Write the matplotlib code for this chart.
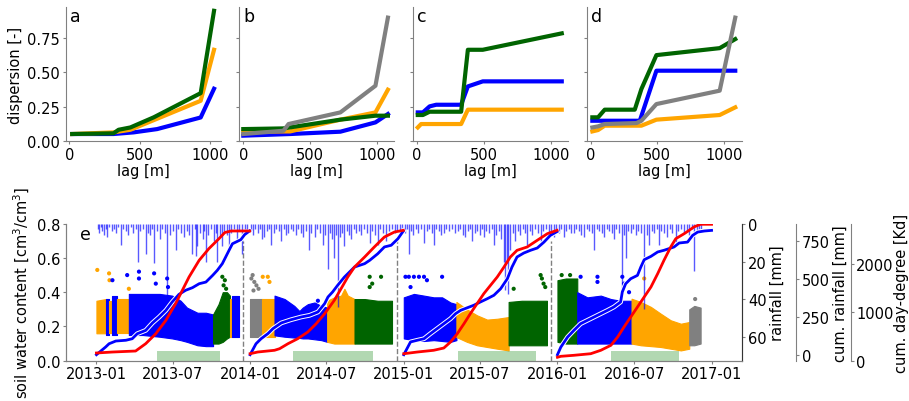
import numpy as np
import matplotlib
matplotlib.use("Agg")
import matplotlib.pyplot as plt
import matplotlib.dates as mdates
import matplotlib.patheffects as pe

# ---------------- top row: dispersion vs lag ----------------
# clusters: A = blue, B = orange, C = green, D = grey
a_A = [(20, 0.049), (314, 0.049), (457, 0.061), (624, 0.085), (934, 0.17), (1029, 0.38)]
a_B = [(20, 0.049), (314, 0.061), (434, 0.080), (934, 0.292), (1029, 0.665)]
a_C = [(20, 0.049), (314, 0.054), (350, 0.080), (434, 0.097), (600, 0.171), (934, 0.348), (1029, 0.95)]

b_A = [(0, 0.037), (350, 0.049), (725, 0.066), (987, 0.134), (1080, 0.195)]
b_B = [(0, 0.066), (350, 0.068), (725, 0.154), (987, 0.207), (1080, 0.373)]
b_C = [(0, 0.085), (300, 0.09), (725, 0.154), (987, 0.183), (1080, 0.183)]
b_D = [(0, 0.049), (300, 0.073), (338, 0.122), (725, 0.207), (987, 0.402), (1080, 0.90)]

c_A = [(7, 0.207), (45, 0.207), (95, 0.251), (144, 0.263), (330, 0.263), (380, 0.397), (491, 0.434), (1079, 0.434)]
c_B = [(7, 0.097), (32, 0.122), (330, 0.122), (380, 0.227), (1079, 0.227)]
c_C = [(7, 0.188), (45, 0.188), (95, 0.212), (330, 0.212), (380, 0.665), (491, 0.665), (1079, 0.785)]

d_A = [(12, 0.146), (369, 0.146), (494, 0.512), (1087, 0.512)]
d_B = [(12, 0.068), (55, 0.078), (105, 0.110), (381, 0.110), (494, 0.154), (970, 0.188), (1087, 0.244)]
d_C = [(12, 0.171), (55, 0.171), (105, 0.227), (331, 0.227), (381, 0.378), (494, 0.626), (970, 0.677), (1087, 0.743)]
d_D = [(12, 0.097), (55, 0.105), (105, 0.122), (343, 0.129), (381, 0.146), (494, 0.268), (970, 0.366), (1087, 0.90)]

panels = ["a", "b", "c", "d"]
panel_series = [[("A", a_A), ("B", a_B), ("C", a_C)],
                [("A", b_A), ("B", b_B), ("C", b_C), ("D", b_D)],
                [("A", c_A), ("B", c_B), ("C", c_C)],
                [("A", d_A), ("B", d_B), ("C", d_C), ("D", d_D)]]

# ---------------- bottom panel: soil water content time series ----------------
years = [2013, 2014, 2015, 2016]

# cumulative rainfall [mm] (day of year, value)
cumrain13 = [(0, 0), (22, 51), (30, 72), (46, 90), (70, 95), (85, 105), (97, 138), (117, 160), (133, 209),
             (149, 248), (165, 292), (180, 347), (196, 397), (212, 424), (228, 441), (244, 467), (260, 478),
             (276, 522), (287, 555), (299, 599), (315, 687), (323, 730), (343, 757), (352, 790), (364, 815)]
cumrain14 = [(0, 0), (14, 72), (26, 105), (42, 138), (54, 171), (74, 209), (97, 230), (121, 248), (141, 259),
             (161, 281), (177, 336), (185, 380), (196, 413), (208, 457), (224, 511), (236, 544), (248, 577),
             (272, 599), (284, 621), (303, 664), (319, 709), (335, 720), (351, 763), (364, 814)]
cumrain15 = [(0, 0), (16, 84), (32, 95), (48, 105), (63, 138), (79, 171), (95, 204), (111, 237), (123, 270),
             (135, 292), (151, 309), (166, 325), (182, 347), (198, 368), (214, 391), (230, 434), (246, 500),
             (257, 577), (269, 643), (285, 669), (301, 687), (317, 702), (333, 741), (348, 785), (364, 810)]
cumrain16 = [(0, 0), (8, 50), (24, 116), (39, 160), (55, 204), (71, 226), (87, 248), (103, 270), (119, 292),
             (134, 314), (150, 347), (154, 413), (162, 467), (174, 500), (190, 522), (198, 577), (206, 625),
             (222, 647), (238, 676), (253, 687), (277, 709), (289, 735), (309, 741), (321, 785), (333, 807),
             (349, 814), (366, 818)]

# cumulative day-degree [Kd]
degday13 = [(0, 160), (38, 180), (93, 201), (117, 353), (141, 560), (165, 838), (188, 1183), (200, 1390),
            (220, 1737), (244, 2083), (267, 2324), (291, 2531), (305, 2660), (320, 2691), (364, 2691)]
degday14 = [(0, 145), (18, 180), (58, 216), (70, 249), (90, 353), (113, 456), (137, 595), (157, 768),
            (177, 975), (200, 1253), (216, 1494), (232, 1737), (248, 1944), (272, 2151), (295, 2359),
            (319, 2566), (343, 2670), (364, 2705)]
degday15 = [(0, 145), (32, 180), (71, 216), (95, 263), (111, 388), (127, 560), (143, 768), (158, 975),
            (174, 1183), (190, 1390), (206, 1564), (222, 1737), (238, 1944), (253, 2151), (269, 2290),
            (293, 2359), (317, 2498), (341, 2635), (364, 2705)]
degday16 = [(0, 71), (8, 91), (39, 112), (79, 145), (103, 216), (127, 320), (143, 492), (158, 699),
            (174, 907), (190, 1114), (206, 1322), (222, 1529), (238, 1805), (253, 2083), (269, 2359),
            (281, 2531), (301, 2635), (313, 2705), (324, 2774), (340, 2830), (366, 2830)]

# daily rainfall [mm]
rain13 = [(3, 3), (6, 5), (10, 2), (14, 4), (18, 6), (22, 3), (26, 7), (31, 2), (36, 4), (41, 3), (47, 5),
          (52, 2), (58, 11), (63, 3), (70, 4), (76, 6), (82, 2), (88, 5), (94, 3), (99, 20), (104, 4),
          (110, 3), (117, 16), (122, 5), (128, 6), (133, 3), (137, 21), (143, 4), (150, 8), (156, 3),
          (162, 5), (168, 41), (174, 6), (181, 4), (188, 14), (194, 3), (200, 5), (207, 7), (214, 4),
          (221, 6), (228, 16), (234, 3), (237, 17), (240, 12), (246, 5), (252, 8), (256, 4), (260, 20),
          (266, 6), (272, 3), (279, 9), (284, 5), (287, 20), (293, 7), (299, 12), (304, 4), (310, 6),
          (315, 14), (320, 5), (326, 3), (333, 8), (339, 4), (346, 16), (352, 3), (358, 5)]
rain14 = [(2, 4), (7, 6), (12, 3), (18, 5), (24, 3), (29, 8), (34, 7), (40, 4), (45, 3), (50, 11), (56, 5),
          (62, 3), (68, 4), (74, 9), (80, 3), (85, 6), (90, 5), (96, 3), (102, 4), (108, 6), (114, 3),
          (120, 5), (126, 7), (132, 4), (139, 14), (145, 5), (153, 7), (160, 3), (166, 5), (173, 11),
          (179, 6), (184, 24), (190, 5), (195, 8), (200, 18), (204, 6), (208, 44), (213, 7), (218, 5),
          (224, 12), (230, 4), (235, 6), (240, 8), (246, 3), (252, 5), (258, 4), (264, 6), (270, 3),
          (277, 5), (284, 10), (290, 4), (296, 6), (303, 11), (309, 3), (316, 5), (323, 9), (329, 4),
          (336, 3), (343, 5), (349, 4), (355, 7), (361, 3)]
rain15 = [(3, 5), (8, 3), (12, 16), (17, 4), (22, 6), (28, 3), (34, 5), (40, 3), (48, 10), (54, 4), (60, 3),
          (66, 5), (71, 11), (77, 3), (83, 4), (89, 6), (95, 5), (101, 3), (108, 4), (115, 3), (122, 5),
          (128, 4), (134, 3), (140, 6), (146, 7), (152, 4), (157, 3), (162, 9), (168, 5), (174, 4),
          (180, 6), (186, 3), (190, 7), (196, 4), (203, 5), (209, 3), (214, 11), (220, 6), (226, 4),
          (232, 8), (237, 20), (241, 35), (244, 21), (248, 37), (253, 14), (259, 5), (265, 9), (271, 4),
          (277, 6), (283, 3), (288, 5), (293, 11), (299, 4), (305, 6), (311, 3), (318, 5), (325, 12),
          (331, 4), (338, 3), (344, 6), (350, 4), (356, 7), (361, 3)]
rain16 = [(4, 5), (9, 3), (16, 7), (21, 4), (27, 3), (33, 5), (39, 5), (45, 3), (51, 4), (57, 6), (63, 7),
          (69, 3), (75, 4), (81, 5), (87, 14), (93, 3), (99, 4), (105, 5), (111, 7), (117, 3), (123, 4),
          (129, 5), (134, 8), (140, 3), (146, 5), (154, 38), (158, 6), (162, 18), (168, 4), (174, 5),
          (180, 3), (186, 6), (192, 4), (198, 5), (205, 45), (212, 6), (218, 11), (224, 4), (230, 5),
          (236, 3), (241, 11), (247, 4), (253, 5), (261, 7), (267, 3), (273, 5), (281, 10), (287, 4),
          (293, 3), (300, 5), (307, 4), (313, 6), (319, 3), (325, 25), (331, 4), (336, 3), (340, 4)]

# soil water content clouds per cluster: (day of year, lower, upper) envelope
swc13 = [("B", [(0, 0.16, 0.35), (22, 0.16, 0.36)]),
         ("A", [(22, 0.15, 0.36), (29, 0.15, 0.36)]),
         ("B", [(29, 0.16, 0.35), (37, 0.16, 0.35)]),
         ("A", [(37, 0.15, 0.38), (50, 0.15, 0.38)]),
         ("B", [(50, 0.16, 0.36), (77, 0.16, 0.36)]),
         ("A", [(77, 0.15, 0.39), (110, 0.15, 0.39), (150, 0.14, 0.39), (180, 0.13, 0.38), (200, 0.12, 0.35),
                (215, 0.11, 0.31), (240, 0.09, 0.28), (260, 0.085, 0.28), (277, 0.085, 0.27)]),
         ("C", [(277, 0.10, 0.27), (290, 0.10, 0.33), (300, 0.11, 0.40), (310, 0.13, 0.40), (317, 0.14, 0.38)]),
         ("B", [(317, 0.14, 0.36), (321, 0.14, 0.36)]),
         ("A", [(321, 0.14, 0.38), (338, 0.14, 0.38)])]
swc14 = [("D", [(0, 0.14, 0.36), (28, 0.14, 0.36)]),
         ("B", [(28, 0.14, 0.36), (58, 0.14, 0.36)]),
         ("A", [(58, 0.148, 0.38), (82, 0.14, 0.36), (105, 0.135, 0.32), (117, 0.133, 0.29), (125, 0.13, 0.31),
                (137, 0.13, 0.33), (153, 0.125, 0.34), (169, 0.12, 0.32), (183, 0.11, 0.31)]),
         ("B", [(183, 0.11, 0.35), (200, 0.10, 0.37), (216, 0.10, 0.38), (224, 0.10, 0.42), (232, 0.10, 0.38),
                (248, 0.10, 0.36)]),
         ("C", [(248, 0.10, 0.36), (272, 0.10, 0.36), (303, 0.10, 0.35), (337, 0.10, 0.35)])]
swc15 = [("A", [(0, 0.13, 0.37), (24, 0.12, 0.39), (48, 0.115, 0.38), (71, 0.12, 0.37), (91, 0.115, 0.37),
                (111, 0.11, 0.34), (125, 0.12, 0.33)]),
         ("B", [(125, 0.138, 0.343), (150, 0.11, 0.30), (174, 0.09, 0.265), (198, 0.08, 0.24), (222, 0.07, 0.245),
                (249, 0.06, 0.255)]),
         ("C", [(249, 0.09, 0.343), (280, 0.09, 0.35), (310, 0.09, 0.35), (340, 0.09, 0.35)])]
swc16 = [("C", [(0, 0.11, 0.47), (20, 0.10, 0.48), (47, 0.10, 0.48)]),
         ("A", [(47, 0.10, 0.40), (71, 0.10, 0.37), (103, 0.10, 0.38), (127, 0.10, 0.36), (150, 0.10, 0.35),
                (176, 0.10, 0.35)]),
         ("B", [(176, 0.10, 0.362), (198, 0.09, 0.343), (222, 0.085, 0.314), (245, 0.08, 0.275),
                (269, 0.07, 0.236), (293, 0.06, 0.216), (313, 0.07, 0.226)]),
         ("D", [(313, 0.09, 0.30), (325, 0.09, 0.32), (340, 0.10, 0.31)])]

# isolated high readings (cluster, day of year, swc)
out13 = [("B", 2, 0.53), ("B", 30, 0.51), ("B", 31, 0.47), ("B", 77, 0.42), ("A", 38, 0.47), ("A", 73, 0.50),
         ("A", 101, 0.52), ("A", 101, 0.48), ("A", 137, 0.51), ("A", 141, 0.45), ("A", 168, 0.48),
         ("A", 170, 0.43), ("C", 299, 0.49), ("C", 305, 0.47), ("C", 302, 0.44), ("C", 308, 0.42)]
out14 = [("D", 3, 0.48), ("D", 6, 0.50), ("D", 10, 0.46), ("D", 15, 0.44), ("D", 20, 0.42), ("D", 8, 0.41),
         ("B", 30, 0.49), ("B", 42, 0.49), ("B", 46, 0.46), ("A", 161, 0.35), ("B", 206, 0.43),
         ("C", 284, 0.49), ("C", 311, 0.49), ("C", 284, 0.43), ("C", 290, 0.45)]
out15 = [("A", 4, 0.49), ("A", 12, 0.49), ("A", 16, 0.43), ("A", 24, 0.49), ("A", 36, 0.49), ("A", 48, 0.49),
         ("A", 55, 0.47), ("A", 91, 0.49), ("C", 261, 0.42), ("C", 325, 0.50), ("C", 328, 0.48),
         ("C", 332, 0.45), ("C", 336, 0.43)]
out16 = [("C", 10, 0.50), ("C", 30, 0.50), ("A", 55, 0.49), ("A", 95, 0.49), ("A", 95, 0.46), ("A", 154, 0.49),
         ("A", 158, 0.45), ("A", 170, 0.40), ("B", 206, 0.48), ("D", 327, 0.36)]

season_start = ["2013-05-26", "2014-04-12", "2015-05-09", "2016-05-06"]
season_end = ["2013-10-21", "2014-10-19", "2015-11-10", "2016-10-15"]
season_height = 0.055
year_breaks = ["2013-12-16", "2014-12-17", "2015-12-16"]

# ---------------- styling ----------------
colors = {"A": "blue", "B": "orange", "C": "darkgreen", "D": "gray"}
plt.rcParams["font.size"] = 10.5
plt.rcParams["axes.edgecolor"] = "gray"
plt.rcParams["xtick.color"] = "gray"
plt.rcParams["ytick.color"] = "gray"
plt.rcParams["xtick.labelcolor"] = "black"
plt.rcParams["ytick.labelcolor"] = "black"
plt.rcParams["xtick.major.size"] = 2
plt.rcParams["ytick.major.size"] = 2
plt.rcParams["xtick.major.pad"] = 2
plt.rcParams["ytick.major.pad"] = 2

W, H = 909, 402
fig = plt.figure(figsize=(W / 100, H / 100), dpi=100)


def box(x0, y0, x1, y1):
    return [x0 / W, 1 - y1 / H, (x1 - x0) / W, (y1 - y0) / H]


def dates(year, doys):
    return np.datetime64(f"{year}-01-01") + np.array(doys, dtype="timedelta64[D]")


# top row
top_boxes = [(65.7, 7.7, 220.5, 142.4), (239.0, 7.7, 393.8, 142.4),
             (412.8, 7.7, 567.8, 142.4), (586.5, 7.7, 741.5, 142.4)]
top_xlims = [(-26, 1075), (-32, 1124), (-30, 1124), (-32, 1134)]
first = None
for i, name in enumerate(panels):
    ax = fig.add_axes(box(*top_boxes[i]), sharey=first)
    if first is None:
        first = ax
    for cl, pts in panel_series[i]:
        x, y = zip(*pts)
        ax.plot(x, y, color=colors[cl], lw=3)
    ax.set_xlim(*top_xlims[i])
    ax.set_ylim(-0.005, 0.98)
    ax.set_xticks([0, 500, 1000])
    ax.set_yticks([0, 0.25, 0.5, 0.75])
    ax.spines["top"].set_visible(False)
    ax.spines["right"].set_visible(False)
    ax.set_xlabel("lag [m]", labelpad=1)
    ax.text(0.03, 0.93, name, transform=ax.transAxes, fontsize=12.5, va="center")
    if i == 0:
        ax.set_ylabel("dispersion [-]", labelpad=3)
    else:
        ax.tick_params(labelleft=False)

# bottom panel
ax = fig.add_axes(box(65.7, 224.7, 742.3, 361.7))
ax_r = ax.twinx()
ax_cr = ax.twinx()
ax_dd = ax.twinx()

swc_all = [swc13, swc14, swc15, swc16]
out_all = [out13, out14, out15, out16]
rain_all = [rain13, rain14, rain15, rain16]
cumrain_all = [cumrain13, cumrain14, cumrain15, cumrain16]
degday_all = [degday13, degday14, degday15, degday16]

for yr, segs, outs in zip(years, swc_all, out_all):
    for cl, pts in segs:
        d, lo, hi = zip(*pts)
        ax.fill_between(dates(yr, d), lo, hi, color=colors[cl], lw=0.8, edgecolor=colors[cl])
    for cl, d, v in outs:
        ax.scatter(dates(yr, [d]), [v], s=9, color=colors[cl], edgecolors="none")

s0 = np.array(season_start, dtype="datetime64[D]")
s1 = np.array(season_end, dtype="datetime64[D]")
ax.bar(s0, season_height, width=(s1 - s0).astype(int), align="edge", color="green", alpha=0.3, lw=0)
for b in np.array(year_breaks, dtype="datetime64[D]"):
    ax.vlines(b, 0, 0.7, color="gray", ls="--", lw=1)

ax.set_ylim(0, 0.8)
ax.set_yticks([0, 0.2, 0.4, 0.6, 0.8])
ax.set_xlim(np.datetime64("2013-01-01") - 73, np.datetime64("2017-01-01") + 73)
ax.xaxis.set_major_locator(mdates.MonthLocator(bymonth=[1, 7]))
ax.xaxis.set_major_formatter(mdates.DateFormatter("%Y-%m"))
ax.set_ylabel("soil water content [cm$^3$/cm$^3$]", labelpad=3)
ax.spines["top"].set_visible(False)
ax.text(0.021, 0.925, "e", transform=ax.transAxes, fontsize=12.5, va="center")

for yr, rr in zip(years, rain_all):
    d, mm = zip(*rr)
    ax_r.vlines(dates(yr, d), 0, mm, color="blue", lw=1.0, alpha=0.65)
ax_r.set_ylim(72.4, 0)
ax_r.set_yticks([0, 20, 40, 60])
ax_r.set_ylabel("rainfall [mm]", labelpad=2)
ax_r.spines["right"].set_color("#333333")

for yr, cr in zip(years, cumrain_all):
    d, v = zip(*cr)
    ax_cr.plot(dates(yr, d), v, color="blue", lw=2,
               path_effects=[pe.Stroke(linewidth=3.4, foreground="white"), pe.Normal()])
ax_cr.set_ylim(-39.5, 862)
ax_cr.set_yticks([0, 250, 500, 750])
ax_cr.spines["right"].set_position(("axes", 1.080))
ax_cr.set_ylabel("cum. rainfall [mm]", labelpad=2)

for yr, dd in zip(years, degday_all):
    d, v = zip(*dd)
    ax_dd.plot(dates(yr, d), v, color="red", lw=2)
ax_dd.set_ylim(0, 2842)
ax_dd.set_yticks([0, 1000, 2000])
ax_dd.spines["right"].set_position(("axes", 1.160))
ax_dd.set_ylabel("cum. day-degree [Kd]", labelpad=0)

for a in (ax_r, ax_cr, ax_dd):
    a.spines["top"].set_visible(False)
for a in (ax_cr, ax_dd):
    a.spines["left"].set_visible(False)
    a.spines["bottom"].set_visible(False)

fig.savefig("out.png", dpi=100)
